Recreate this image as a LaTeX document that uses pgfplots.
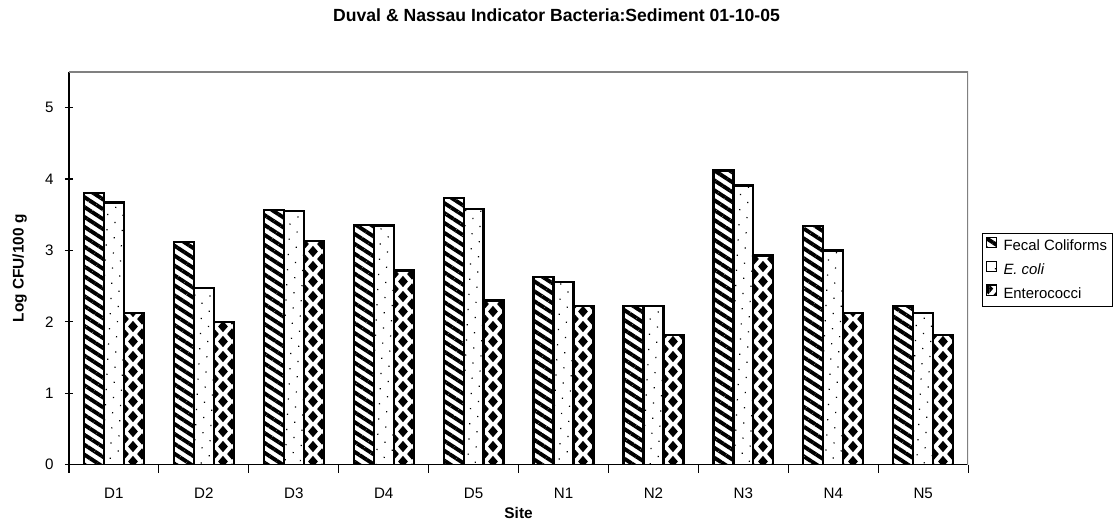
\documentclass[border=0pt]{standalone}
\usepackage{pgfplots}
\pgfplotsset{compat=1.18}
\usepackage{pgfplotstable}
\usepackage{fontspec}
\setmainfont{Liberation Sans}
\usetikzlibrary{patterns,patterns.meta}

% diamonds for Enterococci: one column per bar (tile 18px wide, 15px high)
\tikzdeclarepattern{
  name=diamonds,
  type=uncolored,
  bounding box={(0pt,0pt) and (7.363pt,6.136pt)},
  tile size={(7.363pt,6.136pt)},
  code={
    \foreach \cx/\cy in {3.272/3.068,-0.409/0,-0.409/6.136,6.954/0,6.954/6.136}{
      \fill (\cx pt,\cy pt-2.3pt) -- (\cx pt+2.0pt,\cy pt) -- (\cx pt,\cy pt+2.3pt) -- (\cx pt-2.0pt,\cy pt) -- cycle;
    }
  }
}

\pgfplotstableread{
x fecal ecoli entero
0 3.80 3.67 2.12
1 3.12 2.47 2.00
2 3.57 3.55 3.13
3 3.36 3.35 2.72
4 3.73 3.58 2.30
5 2.63 2.56 2.22
6 2.22 2.22 1.82
7 4.12 3.91 2.93
8 3.34 3.00 2.12
9 2.22 2.12 1.82
}\datatable

\begin{document}
\begin{tikzpicture}
\begin{axis}[
    scale only axis,
    width=12.938cm,
    height=5.650cm,
    xmin=-0.5, xmax=9.5,
    ymin=0, ymax=5.5,
    axis x line*=bottom,
    axis y line*=left,
    axis line style={black, line width=0.6pt},
    xtick={0,...,9},
    xticklabels={D1,D2,D3,D4,D5,N1,N2,N3,N4,N5},
    major x tick style={draw=none},
    minor xtick={-0.5,0.5,...,9.5},
    minor x tick style={black, line width=0.5pt},
    ytick={0,1,2,3,4,5},
    y tick style={black, line width=0.5pt},
    tick align=center,
    major tick length=0.115cm,
    minor tick length=0.115cm,
    /pgf/number format/assume math mode=true,
    ticklabel style={font=\fontsize{6.2}{7}\selectfont},
    xticklabel style={yshift=-0.1cm},
    yticklabel style={xshift=-0.04cm},
    xlabel={\textbf{Site}},
    ylabel={\textbf{Log CFU/100 g}},
    label style={font=\fontsize{6.3}{7.5}\selectfont},
    xlabel style={at={(axis description cs:0.5,0)}, anchor=center, yshift=-0.69cm},
    ylabel style={at={(axis description cs:0,0.5)}, anchor=center, rotate=0, yshift=0.71cm},
    ybar=0pt,
    bar width=0.222,
    legend style={at={(1.0156,0.59)}, anchor=north west, draw=black, line width=0.5pt,
      font=\fontsize{6.1}{7}\selectfont, row sep=1.8pt, column sep=1.5pt, inner sep=1.2pt,
      nodes={inner sep=1pt, text height=4.6pt, text depth=1.4pt},
      cells={anchor=west}},
    legend image code/.code={\draw[#1, line width=0.5pt] (0.02cm,-0.02cm) rectangle (0.17cm,0.13cm);},
]
\addplot[draw=black, line width=0.9pt, bar shift=-0.222,
  pattern={Lines[angle=-33, distance=3.4pt, line width=1.6pt]}]
  table[x=x, y=fecal] {\datatable};
\addlegendentry{Fecal Coliforms}
\addplot[draw=black, line width=0.9pt, bar shift=0,
  pattern={Dots[angle=42, distance=4.4pt, radius=0.35pt]}]
  table[x=x, y=ecoli] {\datatable};
\addlegendentry{\textit{E. coli}}
\addplot[draw=black, line width=0.9pt, bar shift=0.222,
  pattern=diamonds]
  table[x=x, y=entero] {\datatable};
\addlegendentry{Enterococci}
\draw[gray, line width=0.6pt] (rel axis cs:0,1) -- (rel axis cs:1,1) -- (rel axis cs:1,0);
\end{axis}
\node[font=\fontsize{7.2}{9}\selectfont\bfseries] at (7.016cm,6.469cm)
  {Duval \& Nassau Indicator Bacteria:Sediment 01-10-05};
\path (-0.992cm,-0.920cm) rectangle (15.009cm,6.685cm);
\end{tikzpicture}
\end{document}
